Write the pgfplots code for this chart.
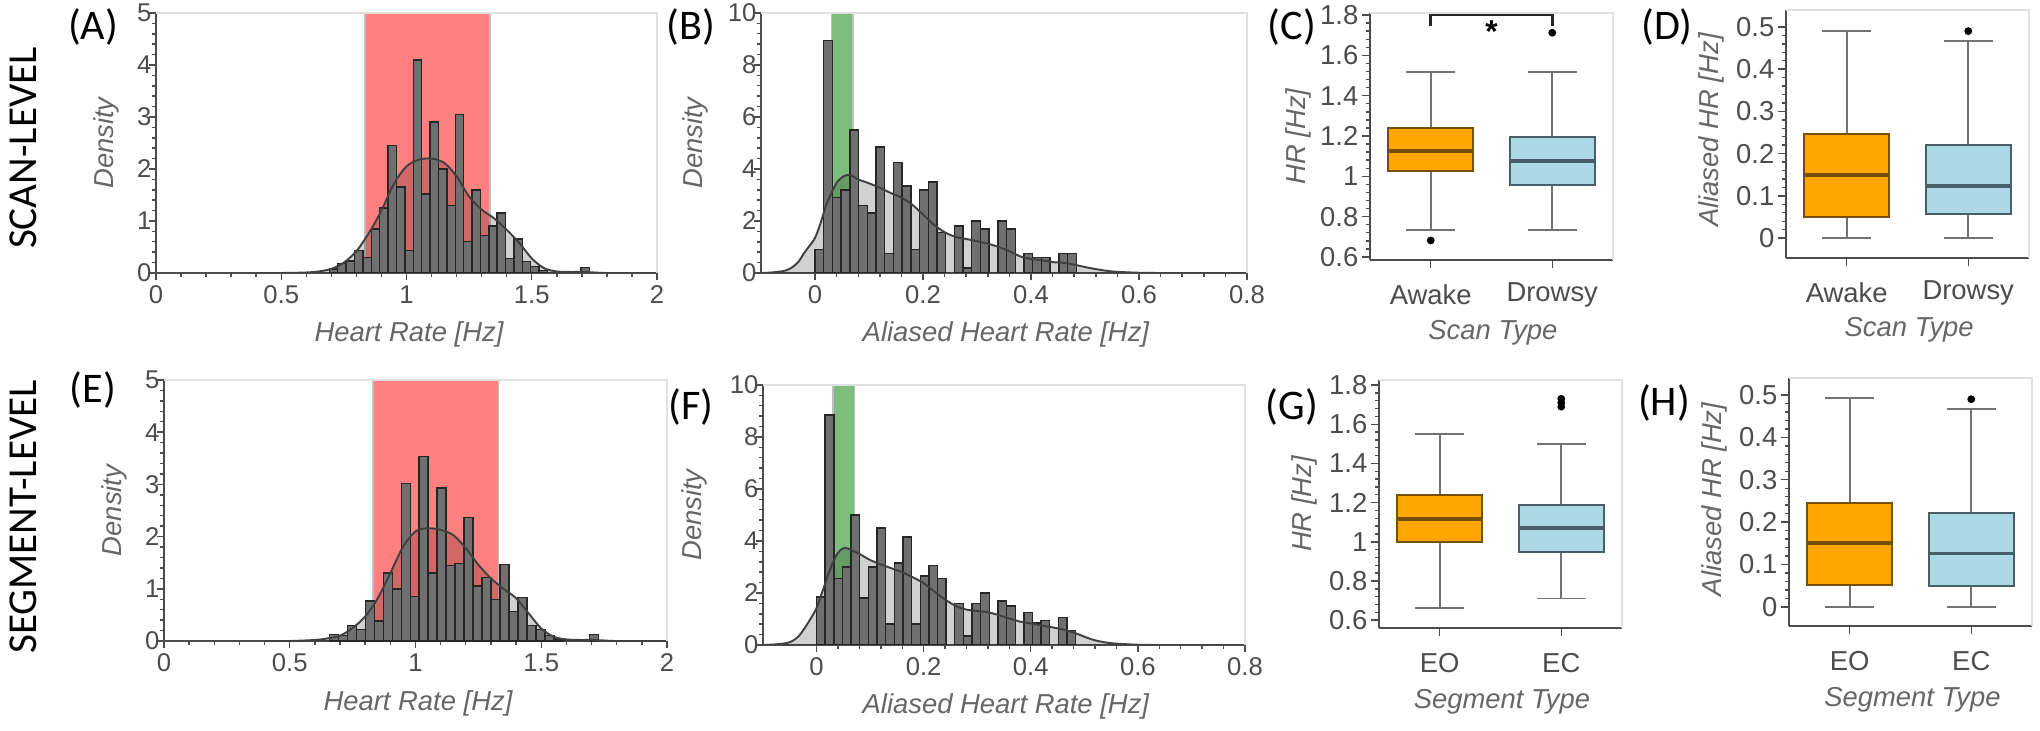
\documentclass[border=0pt]{standalone}
\usepackage{fontspec}
\setmainfont{Liberation Sans}
\newfontfamily\carlito{Carlito}
\usepackage{pgfplots}
\pgfplotsset{compat=1.18}
\usepgfplotslibrary{statistics}
\definecolor{bandred}{RGB}{255,128,128}
\definecolor{bandgreen}{RGB}{125,190,125}
\definecolor{barfill}{RGB}{112,112,112}
\definecolor{bxor}{RGB}{255,165,0}
\definecolor{bxorD}{RGB}{115,80,10}
\definecolor{bxbl}{RGB}{173,216,230}
\definecolor{bxblD}{RGB}{70,95,105}

\tikzset{
 mylab/.style={font=\fontsize{7.8}{9}\selectfont\itshape, text=black!60, inner sep=0pt},
 mypan/.style={font=\carlito\fontsize{12}{13}\selectfont},
}
\pgfplotsset{
 mybase/.style={
  scale only axis, clip mode=individual,
  axis x line*=bottom, axis y line*=left,
  axis line style={draw=black!70, line width=0.6pt, -},
  tick align=outside,
  major tick length=0.07cm, minor tick length=0.04cm,
  every tick/.style={black!70, line width=0.4pt},
  tick label style={text=black!70},
  /pgf/number format/assume math mode=true,
  xticklabel style={anchor=center, inner sep=0pt},
  yticklabel style={anchor=east, inner sep=0pt},
  extra description/.code={\draw[black!12, line width=0.6pt] (axis description cs:0,1) -- (axis description cs:1,1) -- (axis description cs:1,0);},
 },
 myhist/.style={mybase, tick label style={font=\fontsize{7.3}{8}\selectfont},
  xticklabel style={yshift=-0.15cm}, yticklabel style={xshift=0.03cm}, ymin=0},
 mybox/.style={mybase, tick label style={font=\fontsize{7.8}{9}\selectfont},
  xticklabel style={yshift=-0.27cm}, yticklabel style={xshift=-0.03cm}, width=2.43cm,
  xmin=0.5, xmax=2.5, xtick={1,2}, major tick length=0.08cm},
 mybars/.style={ybar, bar width=#1, bar shift=0pt, fill=barfill, draw=black!85, line width=0.4pt},
 mykdefill/.style={fill=black, fill opacity=0.18, draw=none, smooth},
 mykdeline/.style={black!75, line width=0.55pt, smooth},
 mybxo/.style={draw=bxorD, boxplot/draw direction=y,
   boxplot/every box/.style={fill=bxor, draw=bxorD, line width=0.6pt},
   boxplot/every median/.style={draw=bxorD, line width=1.1pt},
   boxplot/every whisker/.style={draw=black!55, line width=0.5pt},
   mark=*, mark size=0.9pt, mark options={fill=black, draw=black}},
 mybxb/.style={draw=bxblD, boxplot/draw direction=y,
   boxplot/every box/.style={fill=bxbl, draw=bxblD, line width=0.6pt},
   boxplot/every median/.style={draw=bxblD, line width=1.1pt},
   boxplot/every whisker/.style={draw=black!55, line width=0.5pt},
   mark=*, mark size=0.9pt, mark options={fill=black, draw=black}},
}

\begin{document}
\begin{tikzpicture}
\path[use as bounding box] (0,0) rectangle (20.4,7.3);

\node[rotate=90, font=\carlito\fontsize{11.7}{12}\selectfont] at (0.23,5.82) {SCAN-LEVEL};
\node[rotate=90, font=\carlito\fontsize{11.7}{12}\selectfont] at (0.23,2.13) {SEGMENT-LEVEL};
\node[mypan] at (0.93,7.03) {(A)};
\node[mypan] at (6.91,7.03) {(B)};
\node[mypan] at (12.92,7.03) {(C)};
\node[mypan] at (16.67,7.03) {(D)};
\node[mypan] at (0.93,3.40) {(E)};
\node[mypan] at (6.91,3.23) {(F)};
\node[mypan] at (12.92,3.23) {(G)};
\node[mypan] at (16.64,3.27) {(H)};

% ---------------- (A)
\begin{axis}[myhist, at={(1.56cm,4.57cm)}, anchor=south west, width=5.01cm, height=2.60cm,
  xmin=0, xmax=2, ymax=5, xtick={0,0.5,1,1.5,2}, ytick={0,1,2,3,4,5},
  minor x tick num=4, minor y tick num=4]
\addplot[fill=bandred, draw=black!25, line width=0.4pt] coordinates {(0.834,0) (0.834,5) (1.334,5) (1.334,0)} \closedcycle;
\addplot[mykdefill] coordinates {(0.4,0) (0.5,0) (0.6,0.01) (0.65,0.03) (0.7,0.08) (0.75,0.2) (0.8,0.42) (0.85,0.77) (0.9,1.2) (0.95,1.72) (1.0,2.05) (1.05,2.18) (1.1,2.2) (1.15,2.12) (1.2,1.86) (1.25,1.47) (1.3,1.22) (1.35,1.05) (1.4,0.83) (1.45,0.58) (1.5,0.28) (1.55,0.09) (1.6,0.03) (1.65,0.02) (1.7,0.02) (1.75,0.01) (1.8,0) (2,0)} \closedcycle;
\addplot[mybars=0.0335] coordinates {
(0.7088,0.08) (0.7423,0.18) (0.7758,0.23) (0.8093,0.43) (0.8428,0.3) (0.8763,0.85)
(0.9098,1.25) (0.9433,2.45) (0.9768,1.65) (1.0103,0.43) (1.0438,4.1) (1.0773,1.52)
(1.1108,2.9) (1.1443,2.0) (1.1778,1.3) (1.2113,3.05) (1.2448,0.6) (1.2783,1.6)
(1.3118,0.72) (1.3453,0.9) (1.3788,1.15) (1.4123,0.28) (1.4458,0.65) (1.4793,0.22)
(1.5128,0.12) (1.5463,0.05) (1.7138,0.1)};
\addplot[mykdeline] coordinates {(0.4,0) (0.5,0) (0.6,0.01) (0.65,0.03) (0.7,0.08) (0.75,0.2) (0.8,0.42) (0.85,0.77) (0.9,1.2) (0.95,1.72) (1.0,2.05) (1.05,2.18) (1.1,2.2) (1.15,2.12) (1.2,1.86) (1.25,1.47) (1.3,1.22) (1.35,1.05) (1.4,0.83) (1.45,0.58) (1.5,0.28) (1.55,0.09) (1.6,0.03) (1.65,0.02) (1.7,0.02) (1.75,0.01) (1.8,0) (2,0)};
\node[mylab] at (axis description cs:0.505,-0.238) {Heart Rate [Hz]};
\node[mylab, rotate=90] at (axis description cs:-0.098,0.5) {Density};
\end{axis}

% ---------------- (B)
\begin{axis}[myhist, at={(7.61cm,4.57cm)}, anchor=south west, width=4.86cm, height=2.60cm,
  xmin=-0.1, xmax=0.8, ymax=10, xtick={0,0.2,0.4,0.6,0.8}, ytick={0,2,4,6,8,10},
  minor x tick num=4, minor y tick num=4]
\addplot[fill=bandgreen, draw=black!25, line width=0.4pt] coordinates {(0.0307,0) (0.0307,10) (0.0704,10) (0.0704,0)} \closedcycle;
\addplot[mykdefill] coordinates {(-0.1,0) (-0.08,0.02) (-0.06,0.07) (-0.05,0.13) (-0.04,0.25) (-0.03,0.45) (-0.02,0.77) (-0.01,1.05) (0,1.35) (0.01,1.9) (0.02,2.57) (0.03,3.05) (0.04,3.47) (0.05,3.68) (0.06,3.77) (0.07,3.72) (0.08,3.6) (0.1,3.45) (0.12,3.28) (0.14,3.08) (0.16,2.9) (0.18,2.63) (0.2,2.25) (0.22,1.86) (0.24,1.57) (0.26,1.39) (0.28,1.31) (0.3,1.22) (0.32,1.13) (0.34,1.0) (0.36,0.84) (0.38,0.64) (0.4,0.54) (0.42,0.49) (0.44,0.42) (0.46,0.39) (0.48,0.32) (0.5,0.23) (0.52,0.15) (0.55,0.06) (0.6,0.01) (0.65,0) (0.8,0)} \closedcycle;
\addplot[mybars=0.016129] coordinates {
(0.00806,0.9) (0.02419,8.95) (0.04032,2.9) (0.05645,3.2) (0.07258,5.5) (0.08871,2.6)
(0.10484,2.3) (0.12097,4.85) (0.1371,0.75) (0.15323,4.25) (0.16935,3.35) (0.18548,0.9)
(0.20161,3.2) (0.21774,3.5) (0.23387,1.55) (0.26613,1.8) (0.28226,0.2) (0.29839,2.0)
(0.31452,1.7) (0.34677,2.0) (0.3629,1.7) (0.39516,0.75) (0.41129,0.6) (0.42742,0.6)
(0.45968,0.75) (0.47581,0.75)};
\addplot[mykdeline] coordinates {(-0.1,0) (-0.08,0.02) (-0.06,0.07) (-0.05,0.13) (-0.04,0.25) (-0.03,0.45) (-0.02,0.77) (-0.01,1.05) (0,1.35) (0.01,1.9) (0.02,2.57) (0.03,3.05) (0.04,3.47) (0.05,3.68) (0.06,3.77) (0.07,3.72) (0.08,3.6) (0.1,3.45) (0.12,3.28) (0.14,3.08) (0.16,2.9) (0.18,2.63) (0.2,2.25) (0.22,1.86) (0.24,1.57) (0.26,1.39) (0.28,1.31) (0.3,1.22) (0.32,1.13) (0.34,1.0) (0.36,0.84) (0.38,0.64) (0.4,0.54) (0.42,0.49) (0.44,0.42) (0.46,0.39) (0.48,0.32) (0.5,0.23) (0.52,0.15) (0.55,0.06) (0.6,0.01) (0.65,0) (0.8,0)};
\node[mylab] at (axis description cs:0.504,-0.235) {Aliased Heart Rate [Hz]};
\node[mylab, rotate=90] at (axis description cs:-0.134,0.5) {Density};
\end{axis}

% ---------------- (C)
\begin{axis}[mybox, at={(13.70cm,4.70cm)}, anchor=south west, height=2.47cm,
  ymin=0.585, ymax=1.81, ytick={0.6,0.8,1,1.2,1.4,1.6,1.8}, minor y tick num=4,
  xticklabels={Awake,Drowsy}, clip=false]
\addplot[mybxo, boxplot prepared={lower whisker=0.732, lower quartile=1.025, median=1.125, upper quartile=1.24, upper whisker=1.519, draw position=1, box extend=0.7, whisker extend=0.4}] table[row sep=\\, y index=0] {v\\0.682\\};
\addplot[mybxb, boxplot prepared={lower whisker=0.732, lower quartile=0.959, median=1.075, upper quartile=1.196, upper whisker=1.519, draw position=2, box extend=0.7, whisker extend=0.4}] table[row sep=\\, y index=0] {v\\1.712\\};
\addplot[black!85, line width=0.8pt] coordinates {(1,1.745) (1,1.80) (2,1.80) (2,1.745)};
\node[font=\fontsize{9}{9}\selectfont\bfseries] at (axis cs:1.5,1.72) {*};
\node[mylab] at (axis description cs:0.506,-0.296) {Scan Type};
\node[mylab, rotate=90] at (axis description cs:-0.296,0.5) {HR [Hz]};
\end{axis}

% ---------------- (D)
\begin{axis}[mybox, at={(17.86cm,4.72cm)}, anchor=south west, height=2.48cm,
  ymin=-0.047, ymax=0.54, ytick={0,0.1,0.2,0.3,0.4,0.5}, minor y tick num=4,
  xticklabels={Awake,Drowsy}]
\addplot[mybxo, boxplot prepared={lower whisker=0, lower quartile=0.05, median=0.15, upper quartile=0.246, upper whisker=0.49, draw position=1, box extend=0.7, whisker extend=0.4}] coordinates {};
\addplot[mybxb, boxplot prepared={lower whisker=0, lower quartile=0.057, median=0.124, upper quartile=0.22, upper whisker=0.466, draw position=2, box extend=0.7, whisker extend=0.4}] table[row sep=\\, y index=0] {v\\0.49\\};
\node[mylab] at (axis description cs:0.507,-0.29) {Scan Type};
\node[mylab, rotate=90] at (axis description cs:-0.309,0.516) {Aliased HR [Hz]};
\end{axis}

% ---------------- (E)
\begin{axis}[myhist, at={(1.64cm,0.89cm)}, anchor=south west, width=5.03cm, height=2.61cm,
  xmin=0, xmax=2, ymax=5, xtick={0,0.5,1,1.5,2}, ytick={0,1,2,3,4,5},
  minor x tick num=4, minor y tick num=4]
\addplot[fill=bandred, draw=black!25, line width=0.4pt] coordinates {(0.831,0) (0.831,5) (1.329,5) (1.329,0)} \closedcycle;
\addplot[mykdefill] coordinates {(0.4,0) (0.5,0) (0.6,0.02) (0.65,0.05) (0.7,0.1) (0.75,0.25) (0.8,0.47) (0.85,0.82) (0.9,1.3) (0.95,1.8) (1.0,2.1) (1.05,2.16) (1.1,2.13) (1.15,2.03) (1.2,1.78) (1.25,1.46) (1.3,1.2) (1.35,1.0) (1.4,0.82) (1.45,0.53) (1.5,0.24) (1.55,0.08) (1.6,0.03) (1.65,0.02) (1.7,0.02) (1.75,0.01) (1.8,0) (2,0)} \closedcycle;
\addplot[mybars=0.0357] coordinates {
(0.6755,0.12) (0.7112,0.1) (0.7469,0.3) (0.7826,0.22) (0.8183,0.77) (0.854,0.38)
(0.8897,1.3) (0.9254,1.0) (0.9611,3.02) (0.9968,0.85) (1.0325,3.53) (1.0682,1.3)
(1.1039,2.93) (1.1396,1.45) (1.1753,1.48) (1.211,2.37) (1.2467,1.05) (1.2824,1.22)
(1.3181,0.8) (1.3538,1.47) (1.3895,0.57) (1.4252,0.83) (1.4609,0.3) (1.4966,0.22)
(1.5323,0.1) (1.568,0.04) (1.7108,0.12)};
\addplot[mykdeline] coordinates {(0.4,0) (0.5,0) (0.6,0.02) (0.65,0.05) (0.7,0.1) (0.75,0.25) (0.8,0.47) (0.85,0.82) (0.9,1.3) (0.95,1.8) (1.0,2.1) (1.05,2.16) (1.1,2.13) (1.15,2.03) (1.2,1.78) (1.25,1.46) (1.3,1.2) (1.35,1.0) (1.4,0.82) (1.45,0.53) (1.5,0.24) (1.55,0.08) (1.6,0.03) (1.65,0.02) (1.7,0.02) (1.75,0.01) (1.8,0) (2,0)};
\node[mylab] at (axis description cs:0.505,-0.238) {Heart Rate [Hz]};
\node[mylab, rotate=90] at (axis description cs:-0.099,0.5) {Density};
\end{axis}

% ---------------- (F)
\begin{axis}[myhist, at={(7.63cm,0.85cm)}, anchor=south west, width=4.82cm, height=2.60cm,
  xmin=-0.1, xmax=0.8, ymax=10, xtick={0,0.2,0.4,0.6,0.8}, ytick={0,2,4,6,8,10},
  minor x tick num=4, minor y tick num=4]
\addplot[fill=bandgreen, draw=black!25, line width=0.4pt] coordinates {(0.031,0) (0.031,10) (0.0705,10) (0.0705,0)} \closedcycle;
\addplot[mykdefill] coordinates {(-0.1,0) (-0.08,0.02) (-0.06,0.06) (-0.05,0.11) (-0.04,0.22) (-0.03,0.42) (-0.02,0.72) (-0.01,1.05) (0,1.42) (0.01,2.0) (0.02,2.6) (0.03,3.15) (0.04,3.55) (0.05,3.72) (0.06,3.7) (0.08,3.5) (0.1,3.27) (0.12,3.1) (0.14,2.95) (0.16,2.8) (0.18,2.6) (0.2,2.38) (0.22,2.05) (0.24,1.75) (0.26,1.5) (0.28,1.36) (0.3,1.31) (0.32,1.26) (0.34,1.15) (0.36,1.02) (0.38,0.9) (0.4,0.83) (0.42,0.75) (0.44,0.68) (0.46,0.6) (0.48,0.48) (0.5,0.32) (0.52,0.18) (0.55,0.07) (0.6,0.01) (0.65,0) (0.8,0)} \closedcycle;
\addplot[mybars=0.016129] coordinates {
(0.00806,1.85) (0.02419,8.85) (0.04032,2.55) (0.05645,3.0) (0.07258,5.0) (0.08871,1.8)
(0.10484,3.0) (0.12097,4.5) (0.1371,0.8) (0.15323,3.15) (0.16935,4.15) (0.18548,0.8)
(0.20161,2.65) (0.21774,3.05) (0.23387,2.55) (0.26613,1.6) (0.28226,0.35) (0.29839,1.6)
(0.31452,2.0) (0.34677,1.7) (0.3629,1.5) (0.39516,1.25) (0.41129,0.85) (0.42742,0.95)
(0.45968,1.05) (0.47581,0.55)};
\addplot[mykdeline] coordinates {(-0.1,0) (-0.08,0.02) (-0.06,0.06) (-0.05,0.11) (-0.04,0.22) (-0.03,0.42) (-0.02,0.72) (-0.01,1.05) (0,1.42) (0.01,2.0) (0.02,2.6) (0.03,3.15) (0.04,3.55) (0.05,3.72) (0.06,3.7) (0.08,3.5) (0.1,3.27) (0.12,3.1) (0.14,2.95) (0.16,2.8) (0.18,2.6) (0.2,2.38) (0.22,2.05) (0.24,1.75) (0.26,1.5) (0.28,1.36) (0.3,1.31) (0.32,1.26) (0.34,1.15) (0.36,1.02) (0.38,0.9) (0.4,0.83) (0.42,0.75) (0.44,0.68) (0.46,0.6) (0.48,0.48) (0.5,0.32) (0.52,0.18) (0.55,0.07) (0.6,0.01) (0.65,0) (0.8,0)};
\node[mylab] at (axis description cs:0.504,-0.238) {Aliased Heart Rate [Hz]};
\node[mylab, rotate=90] at (axis description cs:-0.143,0.5) {Density};
\end{axis}

% ---------------- (G)
\begin{axis}[mybox, at={(13.79cm,1.02cm)}, anchor=south west, height=2.48cm,
  ymin=0.56, ymax=1.826, ytick={0.6,0.8,1,1.2,1.4,1.6,1.8}, minor y tick num=4,
  xticklabels={EO,EC}]
\addplot[mybxo, boxplot prepared={lower whisker=0.663, lower quartile=0.998, median=1.116, upper quartile=1.238, upper whisker=1.55, draw position=1, box extend=0.7, whisker extend=0.4}] coordinates {};
\addplot[mybxb, boxplot prepared={lower whisker=0.71, lower quartile=0.95, median=1.072, upper quartile=1.187, upper whisker=1.50, draw position=2, box extend=0.7, whisker extend=0.4}] table[row sep=\\, y index=0] {v\\1.69\\1.71\\1.73\\};
\node[mylab] at (axis description cs:0.506,-0.298) {Segment Type};
\node[mylab, rotate=90] at (axis description cs:-0.309,0.5) {HR [Hz]};
\end{axis}

% ---------------- (H)
\begin{axis}[mybox, at={(17.89cm,1.04cm)}, anchor=south west, height=2.48cm,
  ymin=-0.045, ymax=0.54, ytick={0,0.1,0.2,0.3,0.4,0.5}, minor y tick num=4,
  xticklabels={EO,EC}]
\addplot[mybxo, boxplot prepared={lower whisker=0, lower quartile=0.051, median=0.15, upper quartile=0.246, upper whisker=0.492, draw position=1, box extend=0.7, whisker extend=0.4}] coordinates {};
\addplot[mybxb, boxplot prepared={lower whisker=0, lower quartile=0.05, median=0.126, upper quartile=0.222, upper whisker=0.467, draw position=2, box extend=0.7, whisker extend=0.4}] table[row sep=\\, y index=0] {v\\0.49\\};
\node[mylab] at (axis description cs:0.508,-0.298) {Segment Type};
\node[mylab, rotate=90] at (axis description cs:-0.309,0.51) {Aliased HR [Hz]};
\end{axis}
\end{tikzpicture}
\end{document}
